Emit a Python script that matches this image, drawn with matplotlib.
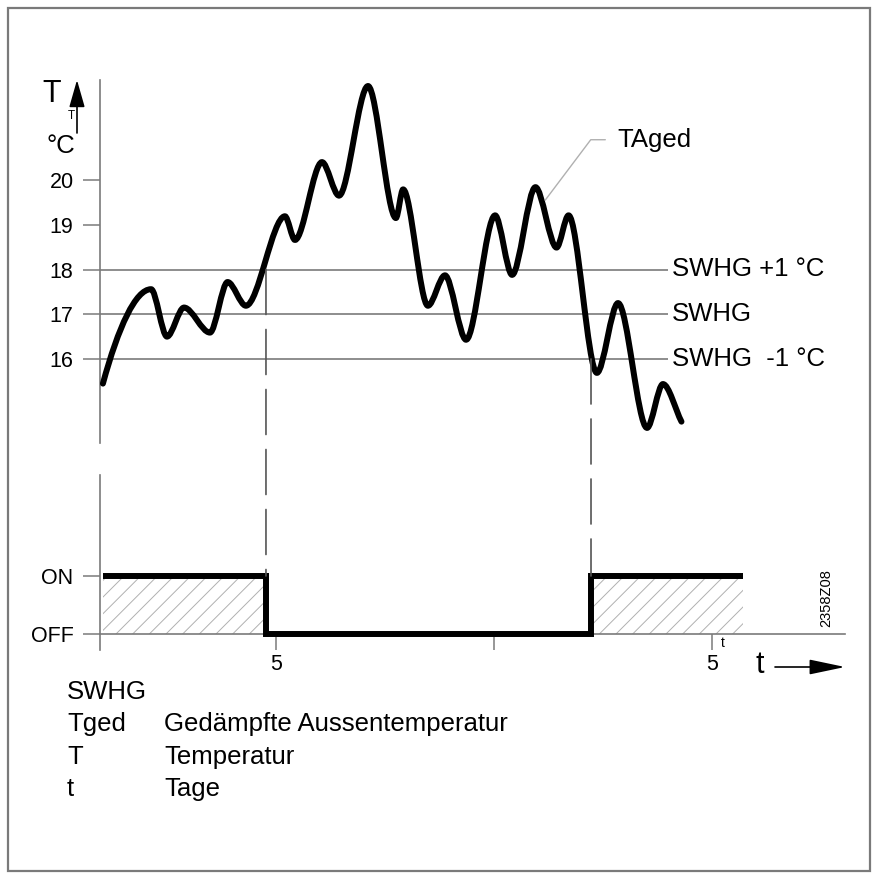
import matplotlib
matplotlib.use("Agg")
import matplotlib.pyplot as plt
from matplotlib.path import Path
from matplotlib.patches import PathPatch, Rectangle, ConnectionPatch

plt.rcParams['font.family'] = ['Liberation Sans', 'DejaVu Sans']

# ---------------- data ----------------
# damped outside temperature (extrema of the curve), x in days
t_days = [2.06, 4.27, 5.00, 5.78, 6.97, 7.78, 8.62, 10.41, 10.87, 12.11, 12.89,
          14.22, 15.50, 15.83, 16.97, 17.75, 18.72, 20.05, 20.83, 21.90, 22.87,
          23.42, 24.72, 25.69, 27.02, 27.75, 28.60]
temps = [15.45, 17.56, 16.50, 17.15, 16.59, 17.72, 17.19, 19.19, 18.66, 20.40, 19.65,
         22.10, 19.15, 19.79, 17.19, 17.87, 16.43, 19.21, 17.88, 19.84, 18.49,
         19.21, 15.69, 17.25, 14.46, 15.44, 14.60]

swhg_levels = [18, 17, 16]
swhg_labels = ["SWHG +1 °C", "SWHG", "SWHG  -1 °C"]
y_ticks = [16, 17, 18, 19, 20]

# heating state (1 = ON, 0 = OFF) between switch times
switch_edges = [2.06, 9.54, 24.45, 31.4]
states = [1, 0, 1]
switch_levels = [18, 16]          # temperature at which the switching happens

x_ticks = [10, 20, 30]
x_tick_labels = ["5", "", "5"]

legend_keys = ["SWHG", "Tged", "T", "t"]
legend_texts = ["", "Gedämpfte Aussentemperatur", "Temperatur", "Tage"]

# ---------------- layout ----------------
W, H = 874, 873
fig = plt.figure(figsize=(W / 100, H / 100), dpi=100)

PX_DAY = 21.8
X_ORG = 58
X0, X1 = -X_ORG / PX_DAY, (W - X_ORG) / PX_DAY
AXIS_X = (100 - X_ORG) / PX_DAY

def fx(px):
    return px / W

def fy(py):
    return 1 - py / H

SPLIT = 460
ax_t = fig.add_axes([0, 1 - SPLIT / H, 1, SPLIT / H])
ax_t.set_xlim(X0, X1)
ax_t.set_ylim(16 + (359 - SPLIT) / 44.75, 16 + 359 / 44.75)

ax_b = fig.add_axes([0, 0, 1, 1 - SPLIT / H])
ax_b.set_xlim(X0, X1)
ax_b.set_ylim((634 - H) / 58, (634 - SPLIT) / 58)

for ax in (ax_t, ax_b):
    ax.patch.set_visible(False)
    for s in ('top', 'right', 'bottom', 'left'):
        ax.spines[s].set_visible(False)

GRAY = '#7a7a7a'

# top axis: temperature
ax_t.spines['left'].set_visible(True)
ax_t.spines['left'].set_position(('data', AXIS_X))
ax_t.spines['left'].set_bounds(14.12, 22.23)
ax_t.spines['left'].set_color(GRAY)
ax_t.spines['left'].set_linewidth(1.2)
ax_t.set_yticks(y_ticks)
ax_t.set_yticklabels([str(v) for v in y_ticks])
ax_t.tick_params(axis='y', length=12, width=1.1, color=GRAY, pad=7, labelsize=15.5)
ax_t.set_xticks([])

ax_t.hlines(swhg_levels, AXIS_X, 27.98, color=GRAY, lw=1.2, zorder=1)
for lv, lb in zip(swhg_levels, swhg_labels):
    ax_t.text(28.17, lv, lb, va='center', ha='left', fontsize=18.5)

# smooth curve through extrema
k = 0.32
verts = [(t_days[0], temps[0])]
codes = [Path.MOVETO]
n = len(t_days)
for i in range(n - 1):
    x0, y0, x1, y1 = t_days[i], temps[i], t_days[i + 1], temps[i + 1]
    dx = x1 - x0
    c1 = (x0 + k * dx, y0 + 0.6 * (y1 - y0)) if i == 0 else (x0 + k * dx, y0)
    c2 = (x1 - k * dx, y1 + 0.3 * (y0 - y1)) if i == n - 2 else (x1 - k * dx, y1)
    verts += [c1, c2, (x1, y1)]
    codes += [Path.CURVE4] * 3
ax_t.add_patch(PathPatch(Path(verts, codes), fill=False, lw=4.3, edgecolor='black',
                         capstyle='round', joinstyle='round', zorder=3))

# TAged leader
ax_t.annotate("TAged", xy=(22.35, 19.55), xytext=(28.6 - 2.92, 20.9),
              fontsize=18.5, ha='left', va='center',
              arrowprops=dict(arrowstyle='-', color='#b0b0b0', lw=1.0,
                              connectionstyle='angle,angleA=0,angleB=53,rad=0',
                              relpos=(0, 0.5), shrinkA=7, shrinkB=0))

# axis arrow with labels
ax_t.annotate("", xy=((77 - X_ORG) / PX_DAY, 16 + (359 - 80) / 44.75),
              xytext=((77 - X_ORG) / PX_DAY, 16 + (359 - 133) / 44.75),
              arrowprops=dict(arrowstyle='-|>,head_length=1.4,head_width=0.4',
                              mutation_scale=12, color='black', lw=1.2,
                              shrinkA=0, shrinkB=0))
fig.text(fx(42), fy(94), "T", fontsize=22, ha='left', va='center')
fig.text(fx(71), fy(116), "T", fontsize=8.5, ha='center', va='center')
fig.text(fx(47), fy(146), "°C", fontsize=18.5, ha='left', va='center')

# bottom axis: ON / OFF
ax_b.spines['left'].set_visible(True)
ax_b.spines['left'].set_position(('data', AXIS_X))
ax_b.spines['left'].set_bounds(-0.276, (634 - 475) / 58)
ax_b.spines['left'].set_color(GRAY)
ax_b.spines['left'].set_linewidth(1.2)
ax_b.set_yticks([0, 1])
ax_b.set_yticklabels(["OFF", "ON"])
ax_b.tick_params(axis='y', length=12, width=1.1, color=GRAY, pad=7, labelsize=15.5)

ax_b.spines['bottom'].set_visible(True)
ax_b.spines['bottom'].set_position(('data', 0))
ax_b.spines['bottom'].set_bounds(AXIS_X, (845 - X_ORG) / PX_DAY)
ax_b.spines['bottom'].set_color(GRAY)
ax_b.spines['bottom'].set_linewidth(1.2)
ax_b.set_xticks(x_ticks)
ax_b.set_xticklabels(x_tick_labels)
ax_b.tick_params(axis='x', length=11.5, width=1.1, color=GRAY, pad=3, labelsize=15.5)

plt.rcParams['hatch.linewidth'] = 0.7
for i, s in enumerate(states):
    if s == 1:
        ax_b.fill_between([switch_edges[i], switch_edges[i + 1]], 0, 1, hatch='//',
                          facecolor='none', edgecolor='#b0b0b0', lw=0, zorder=1)
sp = ax_b.stairs(states, switch_edges, baseline=None, color='black', lw=4.3, zorder=3)
sp.set_joinstyle('miter')
sp.set_capstyle('butt')

# dashed switching lines
for xe, lv in zip(switch_edges[1:3], switch_levels):
    con = ConnectionPatch(xyA=(xe, lv), coordsA=ax_t.transData,
                          xyB=(xe, 1), coordsB=ax_b.transData,
                          color='#555555', lw=1.2, linestyle=(0, (27, 9)), zorder=2)
    fig.add_artist(con)

# t axis arrow
ax_b.annotate("", xy=((845 - X_ORG) / PX_DAY, (634 - 667) / 58),
              xytext=((775 - X_ORG) / PX_DAY, (634 - 667) / 58),
              arrowprops=dict(arrowstyle='-|>,head_length=2.0,head_width=0.42',
                              mutation_scale=11, color='black', lw=1.2,
                              shrinkA=0, shrinkB=0))
fig.text(fx(755), fy(665), "t", fontsize=22, ha='left', va='center')
fig.text(fx(723), fy(643), "t", fontsize=10, ha='center', va='center')
fig.text(fx(826), fy(598), "2358Z08", fontsize=10.5, rotation=90, ha='center', va='center')

# legend text
for i, (kk, tt) in enumerate(zip(legend_keys, legend_texts)):
    yy = 692 + i * 32.3
    fig.text(fx(67), fy(yy), kk, fontsize=18.5, ha='left', va='center')
    if tt:
        fig.text(fx(164), fy(yy), tt, fontsize=18.5, ha='left', va='center')

# frame
fig.add_artist(Rectangle((fx(8), fy(871)), fx(870) - fx(8), fy(8) - fy(871),
                         transform=fig.transFigure, fill=False, edgecolor=GRAY, lw=1.6))

fig.savefig("out.png", dpi=100)
